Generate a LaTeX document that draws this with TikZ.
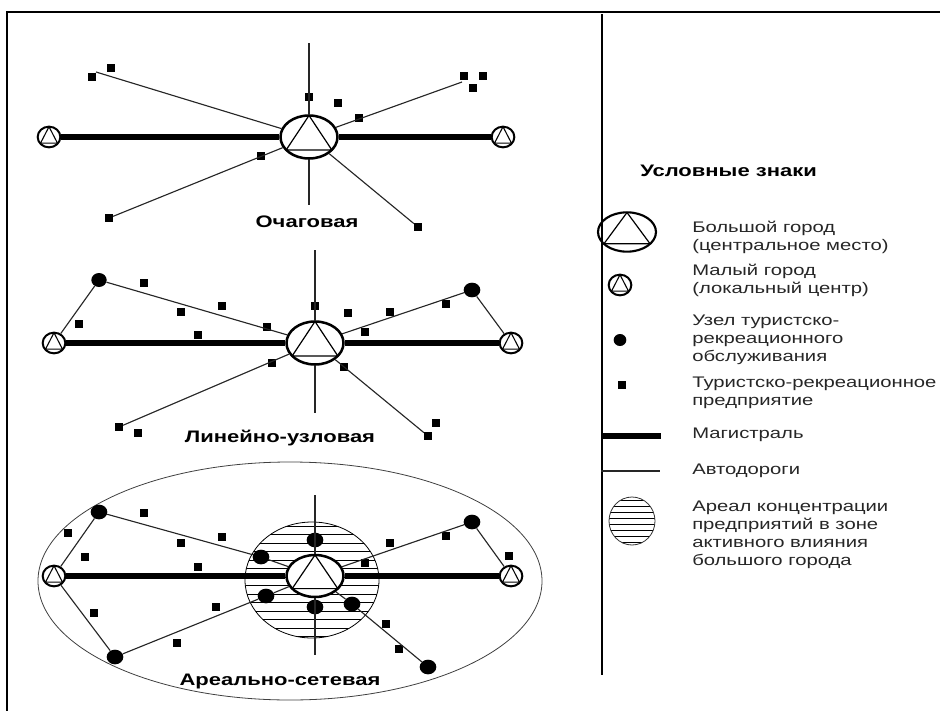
\documentclass[tikz,border=0pt]{standalone}
\usepackage{fontspec}
\setmainfont{Liberation Sans}
\newfontfamily\wf[FakeStretch=1.32]{Liberation Sans}
\usetikzlibrary{shapes.geometric,calc}
\newcommand\BigCityAt[5]{%
  \node[bigcity, minimum width=#4*1.5pt, minimum height=#5*1.5pt] (#1) at (#2,#3) {};
  \draw[tri] ($(#1.center)+(0,-#5)$) -- ($(#1.center)+(-0.8*#4,0.6*#5)$) -- ($(#1.center)+(0.8*#4,0.6*#5)$) -- cycle;
}
\newcommand\SmallCityAt[3]{%
  \node[smallcity] (#1) at (#2,#3) {};
  \draw[line width=0.8pt] ($(#1.center)+(0,-10.3)$) -- ($(#1.center)+(-8.5,6.2)$) -- ($(#1.center)+(8.5,6.2)$) -- cycle;
}
\begin{document}
\begin{tikzpicture}[x=0.75pt,y=-0.75pt,
  frame/.style={line width=2.2pt},
  mag/.style={line width=4pt},
  road/.style={line width=0.85pt, black!85},
  bigcity/.style={ellipse, draw, line width=1.9pt, fill=white, inner sep=0pt},
  smallcity/.style={ellipse, draw, line width=1.5pt, fill=white, inner sep=0pt, minimum width=17pt, minimum height=15.5pt},
  tri/.style={line width=0.9pt},
  knot/.style={ellipse, fill=black, inner sep=0pt, minimum width=11.5pt, minimum height=10.5pt},
  sq/.style={rectangle, fill=black, inner sep=0pt, minimum size=5.8pt},
  lbl/.style={font=\wf\bfseries\fontsize{12.5pt}{14pt}\selectfont, inner sep=0pt},
  leg/.style={font=\wf\fontsize{11.5pt}{13.5pt}\selectfont, align=left, anchor=west, inner sep=0pt, text=black!85},
  hatch/.style={line width=0.6pt},
]
\useasboundingbox (0,0) rectangle (940,711);
% frame
\draw[frame] (7,711) -- (7,12) -- (940,12);
\draw[frame] (602,14) -- (602,675);

% ================= Diagram A: Очаговая
\BigCityAt{bcA}{309}{137}{28.5}{21.5}
\SmallCityAt{scA1}{49}{137}
\SmallCityAt{scA2}{503}{137}
\foreach \n/\px/\py in {1/309/97, 2/338/103, 3/359/118, 4/464/76, 5/483/76, 6/473/88, 7/92/77, 8/111/68, 9/261/156, 10/109/218, 11/418/227}
  \node[sq] (sqA\n) at (\px,\py) {};
\coordinate (topA) at (309,43);
\coordinate (botA) at (309,205);
\coordinate (endA1) at (462,82);
\coordinate (endA2) at (96,72);
\draw[mag] (scA1) -- (bcA);
\draw[mag] (bcA) -- (scA2);
\draw[road] (topA) -- (bcA);
\draw[road] (bcA) -- (botA);
\draw[road] (bcA) -- (endA1);
\draw[road] (bcA) -- (endA2);
\draw[road] (bcA) -- (sqA10);
\draw[road] (bcA) -- (sqA11);
\node[lbl] (labA) at (307,222) {Очаговая};

% ================= Diagram B: Линейно-узловая
\BigCityAt{bcB}{315}{343}{28.5}{21.5}
\SmallCityAt{scB1}{54}{343}
\SmallCityAt{scB2}{511}{343}
\node[knot] (ndB1) at (99,280) {};
\node[knot, minimum width=12.5pt, minimum height=11pt] (ndB2) at (472,290) {};
\foreach \n/\px/\py in {1/144/283, 2/222/306, 3/181/312, 4/267/327, 5/198/335, 6/79/324, 7/315/306, 8/348/313, 9/390/312, 10/446/304, 11/365/332, 12/119/427, 13/138/433, 14/272/363, 15/344/367, 16/428/436, 17/436/423}
  \node[sq] (sqB\n) at (\px,\py) {};
\coordinate (topB) at (315,250);
\coordinate (botB) at (315,413);
\draw[mag] (scB1) -- (bcB);
\draw[mag] (bcB) -- (scB2);
\draw[road] (topB) -- (bcB);
\draw[road] (bcB) -- (botB);
\draw[road] (scB1) -- (ndB1);
\draw[road] (ndB1) -- (bcB);
\draw[road] (bcB) -- (ndB2);
\draw[road] (ndB2) -- (scB2);
\draw[road] (bcB) -- (sqB12);
\draw[road] (bcB) -- (sqB16);
\node[lbl] (labB) at (280,438) {Линейно-узловая};

% ================= Diagram C: Ареально-сетевая
\draw[line width=0.6pt, black!75] (290,581) ellipse [x radius=252, y radius=119];
\begin{scope}
  \clip (312,580) ellipse [x radius=67, y radius=58];
  \foreach \yy in {526,534.5,...,640} \draw[hatch] (240,\yy) -- (385,\yy);
\end{scope}
\draw[hatch] (312,580) ellipse [x radius=67, y radius=58];
\coordinate (topC) at (315,495);
\coordinate (botC) at (315,655);
\BigCityAt{bcC}{315}{576}{28.5}{21}
\SmallCityAt{scC1}{54}{576}
\SmallCityAt{scC2}{511}{576}
\foreach \n/\px/\py in {1/99/512, 2/261/557, 3/315/540, 4/472/522, 5/115/657, 6/266/596, 7/315/607, 8/352/604, 9/428/667}
  \node[knot, minimum width=12.5pt, minimum height=11pt] (ndC\n) at (\px,\py) {};
\foreach \n/\px/\py in {1/144/513, 2/68/533, 3/85/557, 4/181/543, 5/222/537, 6/198/567, 7/94/613, 8/216/607, 9/177/643, 10/390/543, 11/446/536, 12/365/563, 13/509/556, 14/386/624, 15/399/649}
  \node[sq] (sqC\n) at (\px,\py) {};
\draw[mag] (scC1) -- (bcC);
\draw[mag] (bcC) -- (scC2);
\draw[road] (topC) -- (bcC);
\draw[road] (bcC) -- (botC);
\draw[road] (scC1) -- (ndC1);
\draw[road] (ndC1) -- (ndC2);
\draw[road] (ndC2) -- (bcC);
\draw[road] (scC1) -- (ndC5);
\draw[road] (ndC5) -- (ndC6);
\draw[road] (ndC6) -- (bcC);
\draw[road] (bcC) -- (ndC4);
\draw[road] (ndC4) -- (scC2);
\draw[road] (bcC) -- (ndC8);
\draw[road] (ndC8) -- (ndC9);
\node[lbl] (labC) at (280,681) {Ареально-сетевая};

% ================= Legend
\node[font=\wf\bfseries\fontsize{12.5pt}{14pt}\selectfont, anchor=west, inner sep=0pt] (title) at (640,171) {Условные знаки};
\node[bigcity, fill=none, line width=1.6pt, minimum width=43.5pt, minimum height=29.5pt] (bcL) at (627,232) {};
\draw[tri] ($(bcL.center)+(0,-19.5)$) -- ($(bcL.center)+(-23,11.7)$) -- ($(bcL.center)+(23,11.7)$) -- cycle;
\node[leg] (t1) at (692,237) {Большой город\\(центральное место)};
\SmallCityAt{scL}{620}{285}
\node[leg] (t2) at (692,280) {Малый город\\(локальный центр)};
\node[knot, minimum width=9.5pt, minimum height=9pt] (ndL) at (620,340) {};
\node[leg] (t3) at (692,340) {Узел туристско-\\рекреационного\\обслуживания};
\node[sq] (sqL) at (622,385) {};
\node[leg] (t4) at (692,393) {Туристско-рекреационное\\предприятие};
\coordinate (m1) at (602,436);
\coordinate (m2) at (661,436);
\draw[mag] (m1) -- (m2);
\node[leg] (t5) at (692,435) {Магистраль};
\coordinate (r1) at (601,471);
\coordinate (r2) at (660,471);
\draw[road] (r1) -- (r2);
\node[leg] (t6) at (692,471) {Автодороги};
\begin{scope}
  \clip (632,521) ellipse [x radius=23, y radius=24];
  \foreach \yy in {500,506,...,545} \draw[hatch] (605,\yy) -- (660,\yy);
\end{scope}
\draw[hatch, black!80] (632,521) ellipse [x radius=23, y radius=24];
\node[leg] (t7) at (692,535) {Ареал концентрации\\предприятий в зоне\\активного влияния\\большого города};
\end{tikzpicture}
\end{document}
